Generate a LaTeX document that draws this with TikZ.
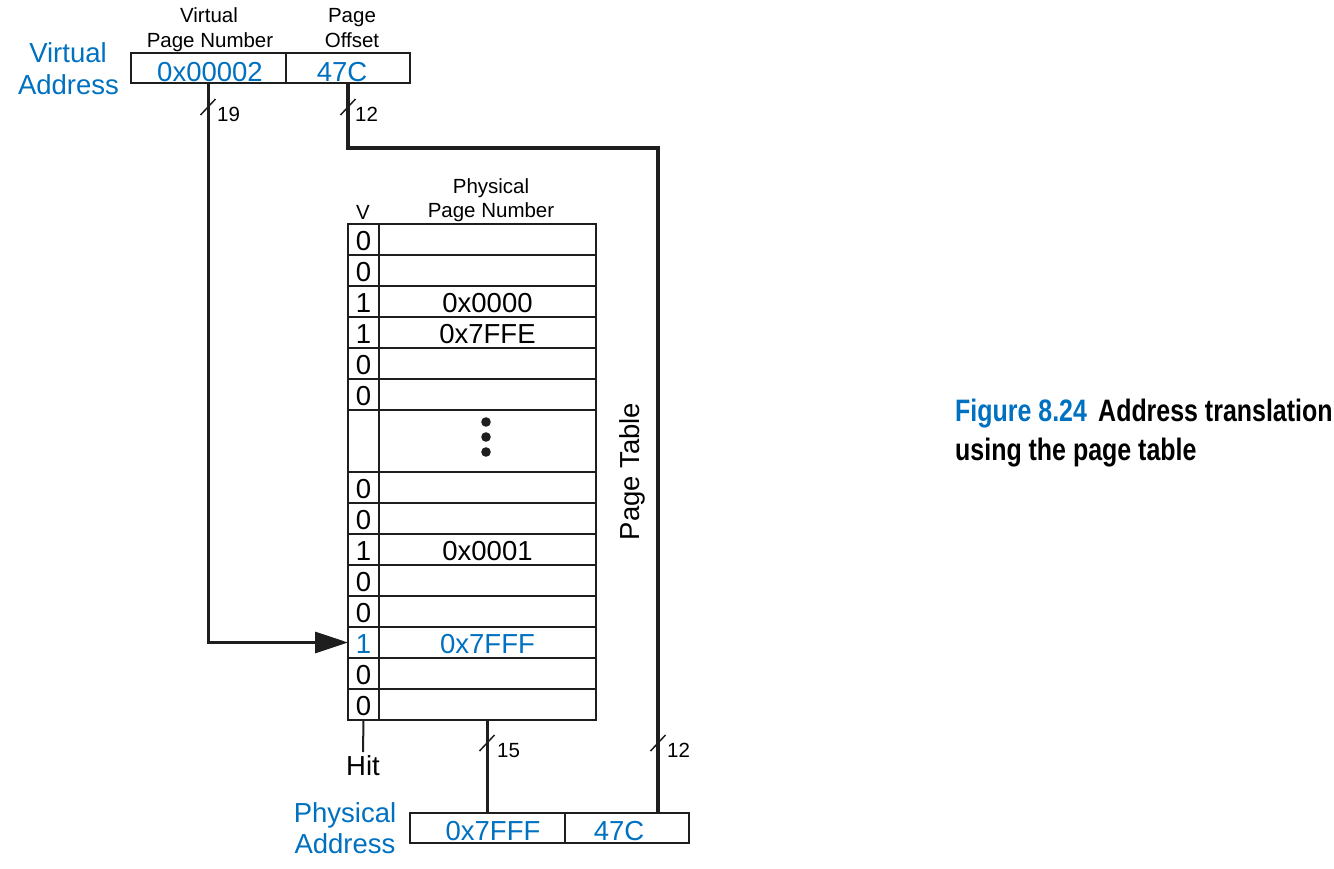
\documentclass[tikz,border=0pt]{standalone}
\usepackage{fontspec}
\setmainfont{Liberation Sans}
\usetikzlibrary{arrows.meta}
\definecolor{hblue}{RGB}{0,112,192}
\definecolor{ink}{RGB}{30,30,30}
\begin{document}
\begin{tikzpicture}[x=1pt,y=-1pt,
  big/.style={font=\fontsize{27.5}{32}\selectfont, inner sep=0pt, anchor=base},
  small/.style={font=\fontsize{20.5}{24}\selectfont, inner sep=0pt, anchor=base},
  bus/.style={font=\fontsize{20.5}{24}\selectfont, inner sep=0pt, anchor=base west},
  fieldbox/.style={draw=ink, line width=2pt, inner sep=0pt, outer sep=0pt, minimum height=30pt},
  cell/.style={draw=ink, line width=2pt, inner sep=0pt, outer sep=0pt, minimum height=31pt,
               font=\fontsize{27.5}{32}\selectfont, text height=21pt, text depth=0pt},
  conn/.style={draw=ink, line width=3.3pt},
  slash/.style={draw=ink, line width=1.5pt},
  caption/.style={anchor=base west, inner sep=0pt, font=\fontsize{31}{36}\bfseries\selectfont},
]
\useasboundingbox (0,0) rectangle (1334,868);

% ---------- Virtual address ----------
\node[big, text=hblue] (va1) at (68,62) {Virtual};
\node[big, text=hblue] (va2) at (68.5,94) {Address};
\node[small] (vl1) at (209,22) {Virtual};
\node[small] (vl2) at (210,47) {Page Number};
\node[small] (ol1) at (352,22) {Page};
\node[small] (ol2) at (352,47) {Offset};
\node[fieldbox, minimum width=155pt, minimum height=30pt] (vpn) at (208.5,68) {};
\node[fieldbox, minimum width=124pt, minimum height=30pt] (voff) at (348,68) {};
\node[big, text=hblue] (vpnt) at (210,81) {0x00002};
\node[big, text=hblue] (vofft) at (342,81) {47C};

% ---------- Page table ----------
\node[small] (vh) at (363,219) {V};
\node[small] (ph1) at (491,193) {Physical};
\node[small] (ph2) at (491,217) {Page Number};

\foreach \n/\y/\v/\p/\c in {1/224/0/{}/black, 2/255/0/{}/black, 3/286/1/0x0000/black,
    4/317/1/0x7FFE/black, 5/348/0/{}/black, 6/379/0/{}/black,
    7/472/0/{}/black, 8/503/0/{}/black, 9/534/1/0x0001/black, 10/565/0/{}/black,
    11/596/0/{}/black, 12/627/1/0x7FFF/hblue, 13/658/0/{}/black, 14/689/0/{}/black}{
  \node[cell, minimum width=31pt, text=\c] (v\n) at (363.5,\y+15.5) {\v};
  \node[cell, minimum width=217pt, text=\c] (p\n) at (487.5,\y+15.5) {\p};
}
\node[cell, minimum width=31pt, minimum height=62pt] (ve) at (363.5,441) {};
\node[cell, minimum width=217pt, minimum height=62pt] (pe) at (487.5,441) {};
\fill[ink] (486,422) circle (4.8pt) (486,437) circle (4.8pt) (486,452) circle (4.8pt);

\node[font=\fontsize{27.5}{32}\selectfont, rotate=90, inner sep=0pt] (pt) at (632,471.5) {Page Table};

% ---------- Physical address ----------
\node[big, text=hblue] (pa1) at (345,822) {Physical};
\node[big, text=hblue] (pa2) at (345,853) {Address};
\node[fieldbox, minimum width=155pt] (ppn) at (487.5,828) {};
\node[fieldbox, minimum width=124pt] (poff) at (627,828) {};
\node[big, text=hblue] (ppnt) at (493,840) {0x7FFF};
\node[big, text=hblue] (pofft) at (619,840) {47C};

% ---------- Hit ----------
\node[big] (hit) at (363,775) {Hit};
\coordinate (hitend) at (363,752);
\draw[draw=ink, line width=2pt] (v14.south) -- (hitend);

% ---------- Connectors ----------
\draw[conn, -{Triangle[length=33pt,width=21pt]}] (vpn.south) |- (v12.west);
\coordinate (k) at (658,148);
\draw[conn] (voff.south) |- (k) -- (k |- poff.north);
\draw[conn] (p14.south) -- (ppn.north);

% ---------- bus widths ----------
\draw[slash] (200.5,115) -- (215.5,99);
\node[bus] (w19) at (217,121) {19};
\draw[slash] (340.5,115) -- (355.5,99);
\node[bus] (w12a) at (355,121) {12};
\draw[slash] (479.5,751) -- (494.5,735);
\node[bus] (w15) at (497,757) {15};
\draw[slash] (650.5,751) -- (665.5,735);
\node[bus] (w12b) at (667,757) {12};

% ---------- Caption ----------
\node[caption] (cap1) at (955,421)
  {\scalebox{0.805}[1]{\textcolor{hblue}{Figure 8.24}\hspace{14pt}Address translation}};
\node[caption] (cap2) at (955,460)
  {\scalebox{0.805}[1]{using the page table}};
\end{tikzpicture}
\end{document}
